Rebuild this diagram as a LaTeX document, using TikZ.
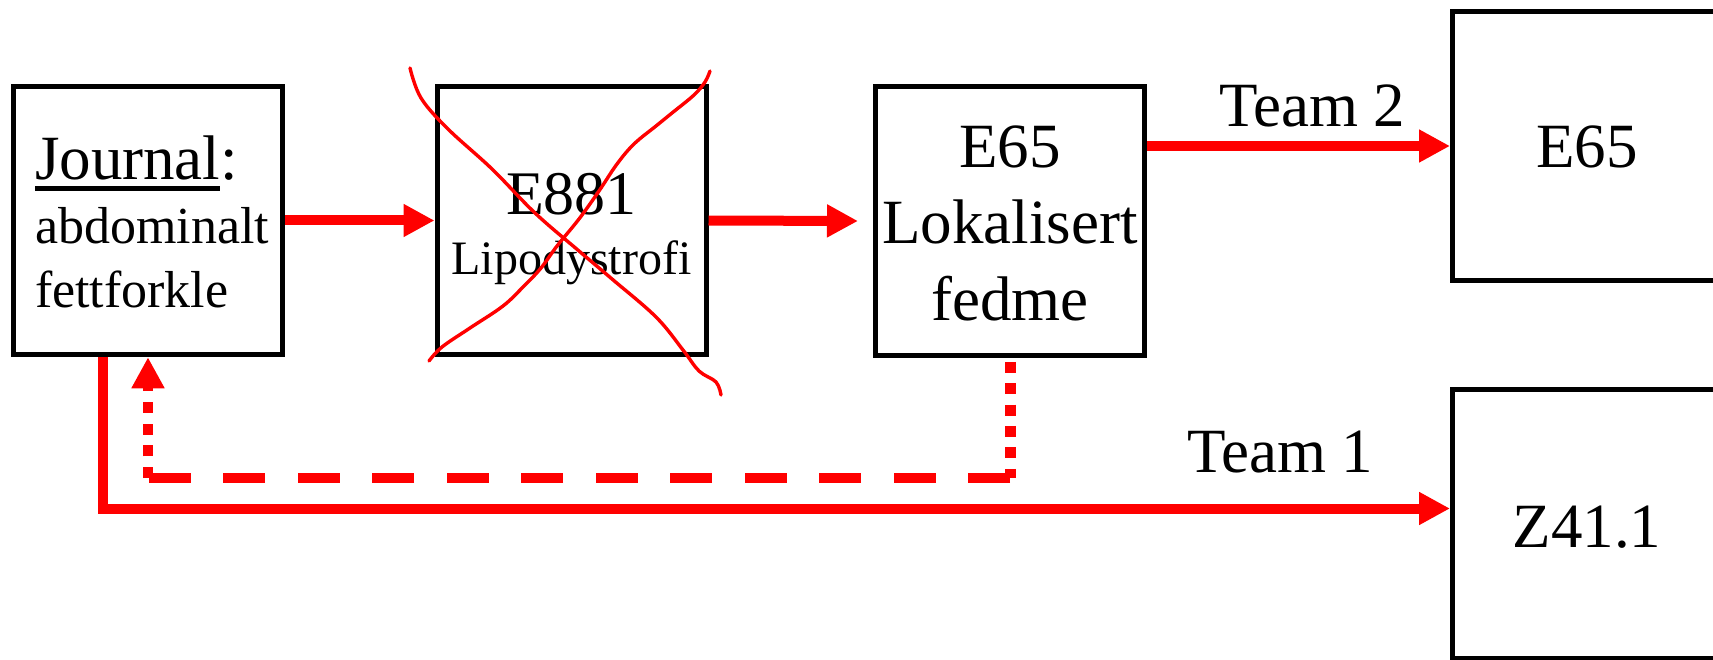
\documentclass[tikz,border=0pt]{standalone}
\usepackage{fontspec}
\setmainfont{Liberation Serif}
\usetikzlibrary{arrows.meta}
\newcommand{\thickul}[1]{\setbox0\hbox{#1}\rlap{\rule[-11pt]{\wd0}{4.5pt}}\box0}
\tikzset{
  box/.style={draw=black, line width=5pt, minimum width=269pt, minimum height=268.5pt,
    inner sep=0pt, align=center, text depth=0pt, font=\fontsize{63}{76.5}\selectfont},
  redarrow/.style={draw=red, line width=10pt, -{Triangle[length=31pt,width=31pt]}},
  redtip/.style={-{Triangle[length=31pt,width=31pt]}},
  cross/.style={draw=red, line width=3.4pt, line cap=round, line join=round},
  lbl/.style={font=\fontsize{63}{70}\selectfont, inner sep=0pt, anchor=base},
}
\begin{document}
\begin{tikzpicture}[x=1pt,y=-1pt]
\useasboundingbox (0,0) rectangle (1713,660);
% boxes
\node[box, text height=47pt, text depth=128pt, text width=226pt, align=left, font=\fontsize{52}{64}\selectfont] (journal) at (148,220.5)
  {{\fontsize{63}{64}\selectfont\thickul{Journal}:}\\abdominalt\\fettforkle};
\node[box, text height=109pt, font=\fontsize{62}{60}\selectfont] (e881) at (571.5,220.5)
  {E881\\{\fontsize{48}{60}\selectfont Lipodystrofi}};
\node[box, text height=198pt] (lok) at (1010,221) {E65\\Lokalisert\\fedme};
\node[box, text height=44pt] (e65) at (1587,146) {E65};
\node[box, text height=46pt] (z41) at (1587,524) {Z41.1};
% solid arrows
\draw[redarrow] (journal.east) -- (e881.west);
\draw[redarrow] (e881.east) -- ([xshift=-15pt]lok.west);
\draw[redarrow] (lok.east |- e65.west) -- node[lbl, pos=0.545, yshift=19pt] {Team 2} (e65.west);
\draw[redarrow, line join=miter] ([xshift=-45pt]journal.south) |- node[lbl, pos=0.937, yshift=36pt] {Team 1} ([yshift=15.5pt]z41.west);
% dashed return connector
\coordinate (dy) at (0,478);
\draw[red, line width=11pt, dash pattern=on 11pt off 10.4pt, dash phase=17.4pt] (lok.south) -- (lok.south |- dy);
\draw[red, line width=10pt, dash pattern=on 42pt off 32.5pt] (lok.south |- dy) -- (journal.south |- dy);
\draw[red, line width=10pt, dash pattern=on 11pt off 10.7pt, redtip] (journal.south |- dy) -- (journal.south);
% hand-drawn cross over E881
\draw[cross] plot[smooth, tension=0.6] coordinates {(410,68) (421,98) (448,129) (492,169) (535,213) (579,251) (612,279) (656,317) (683,350) (699,371) (716,382) (721,395)};
\draw[cross] plot[smooth, tension=0.6] coordinates {(429,361) (442,347) (470,328) (503,306) (524,286) (541,268) (557,246) (579,219) (599,191) (617,164) (634,144) (656,126) (672,113) (694,95) (705,82) (710,71)};
\end{tikzpicture}
\end{document}
